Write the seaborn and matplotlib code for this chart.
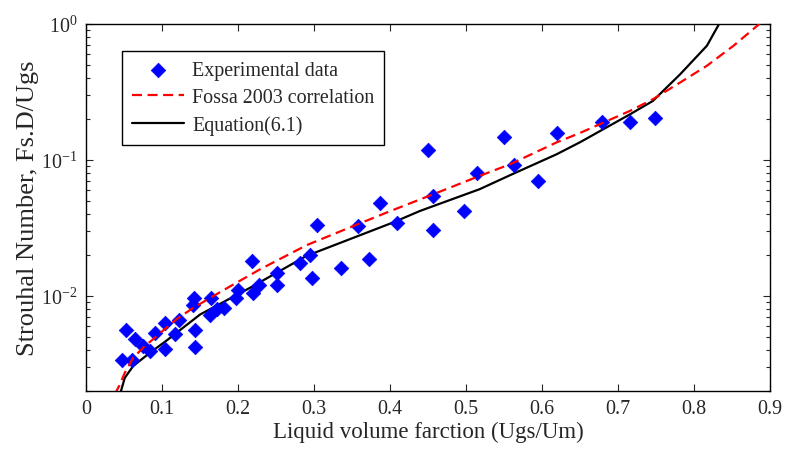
import matplotlib

matplotlib.use("Agg")
import matplotlib.pyplot as plt
import pandas as pd
import seaborn as sns
from matplotlib.ticker import LogLocator

# Experimental data (liquid volume fraction vs Strouhal number)
exp_x = [0.047, 0.053, 0.061, 0.065, 0.075, 0.084, 0.091, 0.104, 0.104, 0.117,
         0.123, 0.142, 0.141, 0.143, 0.143, 0.165, 0.163, 0.172, 0.182, 0.198,
         0.200, 0.219, 0.220, 0.227, 0.251, 0.251, 0.282, 0.295, 0.297, 0.304,
         0.336, 0.358, 0.372, 0.387, 0.409, 0.450, 0.457, 0.457, 0.497, 0.515,
         0.550, 0.563, 0.595, 0.620, 0.679, 0.716, 0.749]
exp_y = [3.41e-3, 5.61e-3, 3.41e-3, 4.85e-3, 4.28e-3, 3.91e-3, 5.35e-3, 6.28e-3, 4.04e-3, 5.21e-3,
         6.61e-3, 9.68e-3, 8.53e-3, 5.58e-3, 4.20e-3, 9.60e-3, 7.26e-3, 7.97e-3, 8.15e-3, 9.60e-3,
         1.109e-2, 1.807e-2, 1.057e-2, 1.207e-2, 1.485e-2, 1.207e-2, 1.759e-2, 1.99e-2, 1.349e-2, 3.33e-2,
         1.616e-2, 3.26e-2, 1.86e-2, 4.86e-2, 3.42e-2, 0.1187, 5.44e-2, 3.04e-2, 4.23e-2, 7.99e-2,
         0.147, 9.16e-2, 6.96e-2, 0.1589, 0.1914, 0.1889, 0.203]

# Fossa 2003 correlation
fossa_x = [0.038, 0.044, 0.051, 0.062, 0.075, 0.090, 0.105, 0.120, 0.140, 0.160,
           0.190, 0.229, 0.290, 0.357, 0.400, 0.440, 0.457, 0.518, 0.558, 0.619,
           0.650, 0.716, 0.746, 0.782, 0.817, 0.852, 0.886]
fossa_y = [1.9e-3, 2.2e-3, 2.72e-3, 3.5e-3, 4.16e-3, 4.9e-3, 5.8e-3, 6.8e-3, 8.1e-3, 9.44e-3,
           1.18e-2, 1.57e-2, 2.36e-2, 3.36e-2, 4.2e-2, 5.14e-2, 5.6e-2, 7.64e-2, 9.3e-2, 0.1345,
           0.158, 0.23, 0.28, 0.372, 0.493, 0.692, 1.0]

# Equation (6.1)
eq_x = [0.046, 0.051, 0.062, 0.084, 0.106, 0.150, 0.216, 0.290, 0.404, 0.4395,
        0.518, 0.558, 0.619, 0.650, 0.716, 0.746, 0.782, 0.817, 0.833]
eq_y = [2.0e-3, 2.5e-3, 3.05e-3, 3.82e-3, 4.7e-3, 7.3e-3, 1.15e-2, 1.97e-2, 3.47e-2, 4.22e-2,
        6.1e-2, 7.73e-2, 0.110, 0.135, 0.217, 0.272, 0.428, 0.692, 1.0]

x_ticks = [0, 0.1, 0.2, 0.3, 0.4, 0.5, 0.6, 0.7, 0.8, 0.9]
x_tick_labels = ["0", "0.1", "0.2", "0.3", "0.4", "0.5", "0.6", "0.7", "0.8", "0.9"]

sns.set_style("ticks")
plt.rcParams["font.family"] = ["Liberation Serif", "DejaVu Serif"]
plt.rcParams["mathtext.fontset"] = "stix"
plt.rcParams["font.size"] = 14.4

fig = plt.figure(figsize=(7.92, 4.52), dpi=100)
ax = fig.add_axes([0.1086, 0.1327, 0.8636, 0.812])

df_exp = pd.DataFrame({"x": exp_x, "y": exp_y})
df_fossa = pd.DataFrame({"x": fossa_x, "y": fossa_y})
df_eq = pd.DataFrame({"x": eq_x, "y": eq_y})

sns.scatterplot(data=df_exp, x="x", y="y", ax=ax, marker="D", s=55,
                color=(0, 0, 1), edgecolor=(0, 0, 1), linewidth=0.5,
                label="Experimental data", zorder=3)
sns.lineplot(data=df_fossa, x="x", y="y", ax=ax, color=(1, 0, 0), lw=1.6,
             estimator=None, sort=False, label="Fossa 2003 correlation", zorder=4)
ax.lines[-1].set_dashes((4.5, 2.5))
sns.lineplot(data=df_eq, x="x", y="y", ax=ax, color="black", lw=1.6,
             estimator=None, sort=False, label="Equation(6.1)", zorder=2)

ax.set_yscale("log")
ax.set_xlim(0, 0.9)
ax.set_ylim(2e-3, 1)
ax.set_xticks(x_ticks, x_tick_labels)
ax.yaxis.set_major_locator(LogLocator(base=10))
ax.yaxis.set_minor_locator(LogLocator(base=10, subs=range(2, 10)))

ax.tick_params(which="both", direction="in", top=True, right=True, labelsize=14.4, width=0.8)
ax.tick_params(which="major", length=5, pad=6)
ax.tick_params(which="minor", length=3)
for sp in ax.spines.values():
    sp.set_linewidth(1.0)
    sp.set_color("black")

ax.set_xlabel("Liquid volume farction (Ugs/Um)", fontsize=16.5, labelpad=2)
ax.set_ylabel("Strouhal Number, Fs.D/Ugs", fontsize=19, labelpad=2)

leg = ax.legend(loc="upper left", bbox_to_anchor=(0.0526, 0.927), fancybox=False,
                edgecolor="black", framealpha=1, fontsize=14.4, handlelength=2.6,
                handletextpad=0.4, labelspacing=0.4, borderpad=0.5, borderaxespad=0)
leg.get_frame().set_linewidth(1.0)

fig.savefig("out.png", dpi=100)
